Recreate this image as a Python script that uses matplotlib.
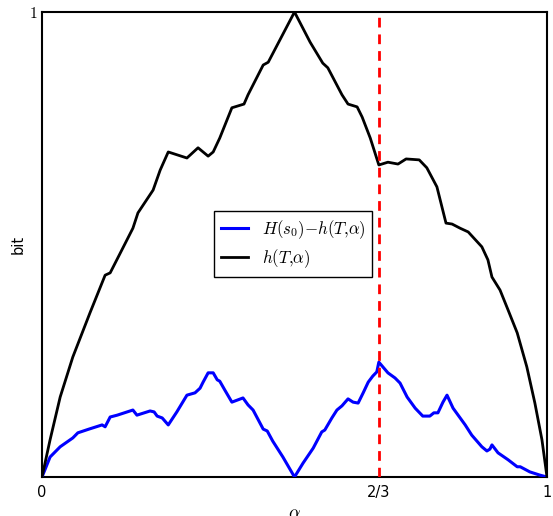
import matplotlib
matplotlib.use("Agg")
import matplotlib.pyplot as plt

plt.rcParams['mathtext.fontset'] = 'cm'

# h(T, alpha) -- black curve
h_x = [0.0, 0.016, 0.036, 0.061, 0.095, 0.125, 0.135, 0.158, 0.180, 0.190, 0.220, 0.234,
       0.250, 0.287, 0.309, 0.329, 0.339, 0.352, 0.376, 0.400, 0.408, 0.438, 0.448, 0.5,
       0.531, 0.556, 0.566, 0.594, 0.606, 0.624, 0.634, 0.650, 0.667, 0.685, 0.705, 0.721,
       0.747, 0.762, 0.782, 0.800, 0.812, 0.828, 0.844, 0.871, 0.883, 0.891, 0.907, 0.923,
       0.941, 0.960, 0.976, 0.990, 1.0]
h_y = [0.0, 0.080, 0.172, 0.258, 0.353, 0.434, 0.439, 0.488, 0.535, 0.568, 0.617, 0.660,
       0.699, 0.686, 0.708, 0.690, 0.699, 0.729, 0.794, 0.802, 0.822, 0.886, 0.892, 1.0,
       0.935, 0.890, 0.880, 0.822, 0.802, 0.796, 0.774, 0.729, 0.671, 0.677, 0.673, 0.684,
       0.682, 0.665, 0.624, 0.546, 0.544, 0.535, 0.527, 0.495, 0.467, 0.430, 0.402, 0.359,
       0.310, 0.237, 0.159, 0.080, 0.0]

# H(s0) - h(T, alpha) -- blue curve
d_x = [0.0, 0.016, 0.036, 0.061, 0.071, 0.093, 0.119, 0.125, 0.135, 0.149, 0.180, 0.188,
       0.214, 0.222, 0.228, 0.238, 0.250, 0.267, 0.287, 0.303, 0.313, 0.319, 0.329, 0.339,
       0.347, 0.352, 0.362, 0.376, 0.398, 0.408, 0.418, 0.438, 0.446, 0.457, 0.477, 0.5,
       0.517, 0.537, 0.554, 0.560, 0.574, 0.584, 0.594, 0.606, 0.616, 0.626, 0.636, 0.646,
       0.655, 0.663, 0.667, 0.685, 0.699, 0.709, 0.723, 0.739, 0.754, 0.768, 0.776, 0.784,
       0.794, 0.802, 0.814, 0.824, 0.838, 0.851, 0.871, 0.881, 0.887, 0.891, 0.903, 0.923,
       0.941, 0.947, 0.966, 0.986, 1.0]
d_y = [0.0, 0.043, 0.065, 0.084, 0.095, 0.103, 0.112, 0.108, 0.129, 0.133, 0.144, 0.133,
       0.142, 0.140, 0.131, 0.127, 0.112, 0.140, 0.176, 0.181, 0.191, 0.204, 0.224, 0.224,
       0.209, 0.206, 0.187, 0.161, 0.170, 0.155, 0.144, 0.103, 0.099, 0.077, 0.043, 0.0,
       0.030, 0.062, 0.097, 0.101, 0.127, 0.144, 0.153, 0.168, 0.161, 0.159, 0.181, 0.204,
       0.217, 0.226, 0.247, 0.224, 0.213, 0.202, 0.172, 0.148, 0.131, 0.131, 0.138, 0.138,
       0.161, 0.176, 0.148, 0.133, 0.112, 0.090, 0.065, 0.056, 0.060, 0.069, 0.052, 0.037,
       0.022, 0.022, 0.011, 0.004, 0.0]

x_ticks = [0, 2/3, 1]
x_tick_labels = ['0', '2/3', '1']
y_ticks = [1]
y_tick_labels = ['$1$']
vline_x = 2/3

fig = plt.figure(figsize=(5.53, 5.16), dpi=100)
ax = fig.add_axes([42/553, 39/516, 505/553, 465/516])

ax.plot(d_x, d_y, color='blue', lw=2.2, label=r'$H(s_0){-}h(T{,}\alpha)$', zorder=3)
ax.plot(h_x, h_y, color='black', lw=2.0, label=r'$h(T{,}\alpha)$', zorder=3)
ax.axvline(vline_x, color='red', lw=2.0, ls=(0, (3.5, 2.5)), zorder=4)

ax.set_xlim(0, 1)
ax.set_ylim(0, 1)
ax.set_xticks(x_ticks)
ax.set_xticklabels(x_tick_labels, fontsize=10.5)
ax.set_yticks(y_ticks)
ax.set_yticklabels(y_tick_labels, fontsize=11)
ax.tick_params(length=0, pad=6)
ax.tick_params(axis='y', pad=3)
for s in ax.spines.values():
    s.set_linewidth(1.5)

ax.set_ylabel('bit', fontsize=10.5)
ax.yaxis.set_label_coords(-0.032, 0.5)
ax.set_xlabel(r'$\alpha$', fontsize=13)
ax.xaxis.set_label_coords(0.5, -0.058)

leg = ax.legend(loc='upper left', bbox_to_anchor=(0.341, 0.572), borderaxespad=0,
                fancybox=False, edgecolor='black', framealpha=1, fontsize=12.2,
                handlelength=1.6, borderpad=0.4, labelspacing=0.4)
leg.get_frame().set_linewidth(1.0)

fig.savefig('out.png', dpi=100)
